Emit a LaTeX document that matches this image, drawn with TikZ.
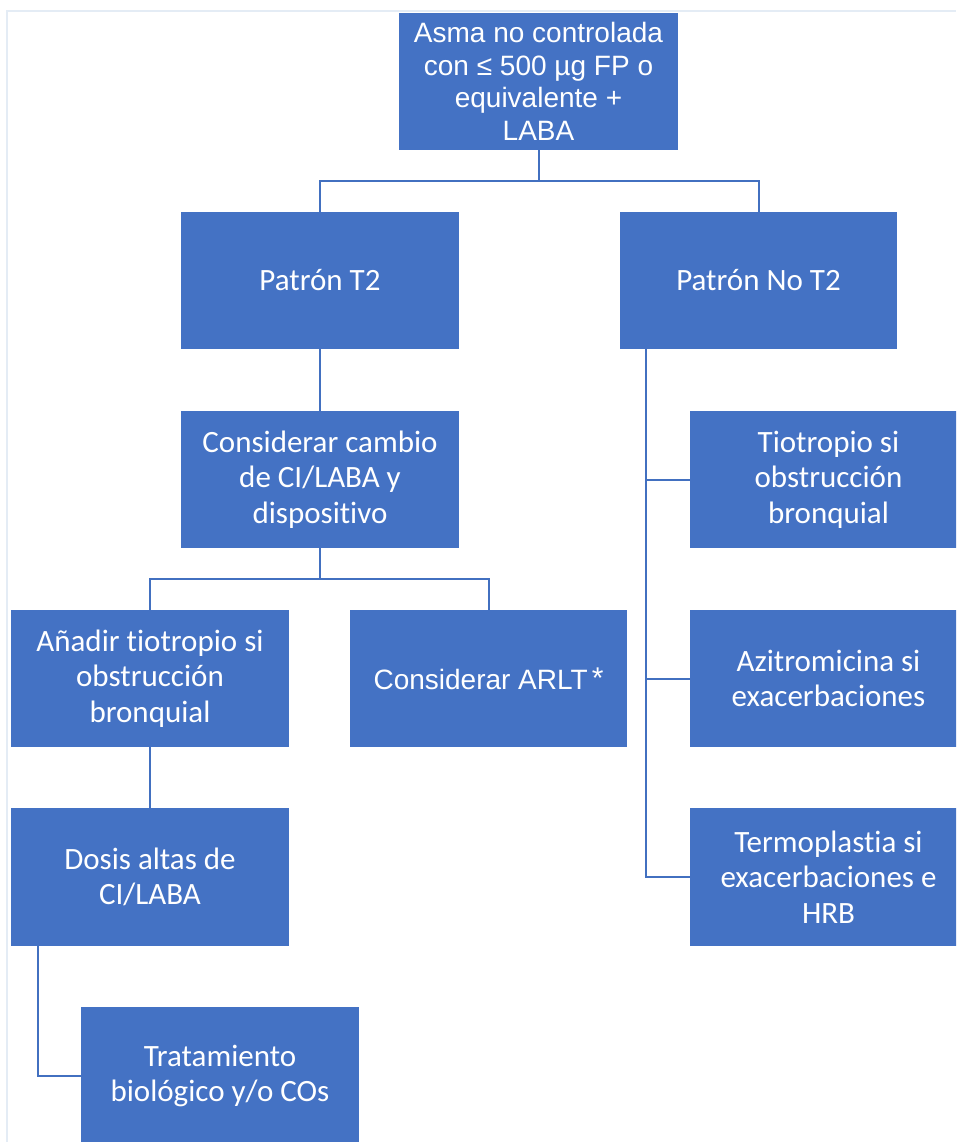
\documentclass[tikz,border=0pt]{standalone}
\usepackage{fontspec}
\setmainfont[Ligatures=NoCommon]{Carlito}
\newfontfamily\arialf{Liberation Sans}
\definecolor{boxblue}{HTML}{4472C4}
\definecolor{linecol}{HTML}{4270C0}
\definecolor{framecol}{HTML}{E4ECF5}
\tikzset{
  box/.style={fill=boxblue, text=white, align=center, inner sep=0pt,
    font=\fontsize{31pt}{35.5pt}\selectfont},
  abox/.style={box, font=\arialf\fontsize{28pt}{32.5pt}\selectfont},
  conn/.style={draw=linecol, line width=2pt}
}
\begin{document}
\begin{tikzpicture}[x=1pt,y=-1pt]
\useasboundingbox (0,0) rectangle (956,1142);
\clip (0,0) rectangle (956,1142);
\fill[white] (0,0) rectangle (956,1142);
\draw[framecol, line width=1.5pt] (7,1142) -- (7,11) -- (956,11);

\node[abox, minimum width=279pt, minimum height=137pt] (top) at (538.5,81.5)
  {Asma no controlada\\con ≤ 500 µg FP o\\equivalente +\\LABA};
\node[box, minimum width=278pt, minimum height=137pt] (pt2) at (320,280.5) {Patrón T2};
\node[box, minimum width=277pt, minimum height=137pt] (pnt2) at (758.5,280.5) {Patrón No T2};
\node[box, minimum width=278pt, minimum height=137pt] (cons) at (320,479.5)
  {Considerar cambio\\de CI/LABA y\\dispositivo};
\node[box, minimum width=277pt, minimum height=137pt] (tio) at (828.5,479.5)
  {Tiotropio si\\obstrucción\\bronquial};
\node[box, minimum width=277pt, minimum height=137pt] (azi) at (828.5,678.5)
  {Azitromicina si\\exacerbaciones};
\node[box, minimum width=277pt, minimum height=138pt] (termo) at (828.5,877)
  {Termoplastia si\\exacerbaciones e\\HRB};
\node[box, minimum width=278pt, minimum height=137pt] (anad) at (150,678.5)
  {Añadir tiotropio si\\obstrucción\\bronquial};
\node[abox, minimum width=277pt, minimum height=137pt] (arlt) at (488.5,678.5)
  {Considerar ARLT\hspace{4pt}\raisebox{1pt}{\fontsize{30pt}{30pt}\selectfont *}};
\node[box, minimum width=278pt, minimum height=138pt] (dosis) at (150,877)
  {Dosis altas de\\CI/LABA};
\node[box, minimum width=278pt, minimum height=138pt] (trat) at (220,1076)
  {Tratamiento\\biológico y/o COs};

% connectors
\coordinate (j1) at (538.5,181);
\draw[conn] (top.south) -- (j1);
\draw[conn] (pt2.north) |- (j1) -| (pnt2.north);
\draw[conn] (pt2.south) -- (cons.north);
\coordinate (j2) at (320,579);
\draw[conn] (cons.south) -- (j2);
\draw[conn] (anad.north) |- (j2) -| (arlt.north);
\draw[conn] (anad.south) -- (dosis.north);
\draw[conn] ([xshift=27pt]dosis.south west) |- (trat.west);
\coordinate (rv) at ([xshift=26pt]pnt2.south west);
\draw[conn] (rv) |- (termo.west);
\draw[conn] (tio.west) -- (tio.west -| rv);
\draw[conn] (azi.west) -- (azi.west -| rv);
\end{tikzpicture}
\end{document}
